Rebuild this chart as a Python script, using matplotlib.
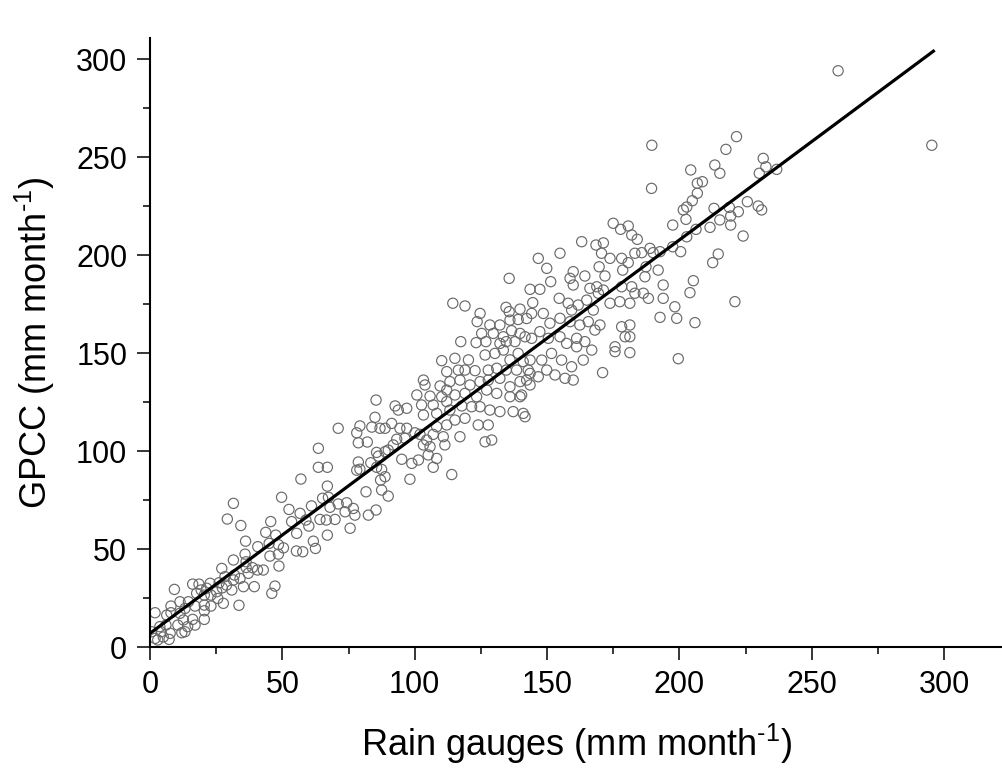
# Dispersión GPCC vs pluviómetros con recta de ajuste

import matplotlib
matplotlib.use('Agg')
import matplotlib.pyplot as plt
from matplotlib.ticker import MultipleLocator

plt.rcParams['font.family'] = ['Liberation Sans', 'DejaVu Sans']
plt.rcParams['mathtext.fontset'] = 'custom'
plt.rcParams['mathtext.rm'] = 'Liberation Sans'
plt.rcParams['mathtext.it'] = 'Liberation Sans'

# Datos: (pluviómetro, GPCC) en mm/mes
puntos = [
    # 0 - 62
    (31.5, 73.3), (49.7, 76.4), (29.2, 65.3), (34.3, 62), (52.5, 70.2), (56.7, 68.2), (61, 72),
    (53.5, 64), (45.6, 64), (43.7, 58.5), (47.5, 57.1), (36.1, 54), (40.7, 51.2), (45, 52.9),
    (48.5, 52.2), (55.4, 58), (55.3, 49), (57.7, 48.6), (61.7, 54), (62.5, 50.3), (50.4, 50.6),
    (45.3, 46.4), (48.5, 47.4), (48.7, 41.3), (35.9, 47.4), (31.5, 44.4), (36.3, 43.5),
    (38.7, 40.5), (42.8, 39.3), (40.6, 39.3), (37.1, 37.6), (34, 35), (35.3, 30.8), (39.4, 30.8),
    (47.2, 31.1), (46, 27.4), (33.6, 21.3), (31.5, 34.2), (28.3, 35.9), (27.1, 40.1), (28.9, 31.6),
    (25.2, 28.2), (27.3, 30.2), (22.7, 32.5), (23, 26.5), (25.6, 24.8), (27.7, 22.3), (18.5, 32.1),
    (16.1, 32.1), (19.3, 29.1), (21.4, 30), (20.5, 26.5), (17.6, 27.4), (20.5, 21.4), (23, 20.9),
    (17, 20.9), (20.5, 18.5), (14.5, 23.1), (13.2, 19.7), (11.3, 23.1), (11.3, 17.2), (7.9, 20.9),
    (9.2, 29.4), (7.9, 17.5), (12.6, 13.8), (16.1, 14.1), (20.5, 14.1), (17, 11.2), (14.2, 10.4),
    (12, 7.3), (13.2, 7.8), (10.5, 11.2), (6.3, 16.3), (6, 11.2), (7.6, 7), (4.2, 7.8), (1.9, 17.5),
    (1.9, 4.4), (2.9, 3.6), (5, 5.1), (7.2, 3.9), (0.6, 7.8), (3.7, 10.4), (26.1, 32.8),
    (30.9, 29.1), (31.9, 36.7), (36.3, 40.6), (60, 61.7),
    # 55 - 110
    (85.4, 126), (92.6, 123), (93.8, 120.9), (100.8, 128.6), (103.9, 133.7), (105.8, 128),
    (102.6, 123.5), (107, 123.5), (108.3, 119.2), (85, 117.2), (79.3, 112.8), (83.8, 112.2),
    (86.9, 111.6), (88.8, 111.6), (91.3, 114.1), (94.4, 111.6), (97, 111.6), (71.1, 111.6),
    (78.1, 109.3), (78.7, 104.2), (82.1, 104.6), (100.1, 109.3), (96.3, 106.5), (93.2, 106),
    (102, 108.5), (104.5, 105.6), (107, 108.5), (103.3, 103.1), (105.8, 102.2), (91.9, 103.1),
    (90, 100.5), (88.8, 99.7), (85.6, 99.3), (86.3, 97.4), (83.4, 94), (78.7, 94.4), (79.3, 90.7),
    (78.1, 90.2), (63.6, 101.4), (63.6, 91.7), (67, 91.7), (57, 85.7), (67, 82.1), (85.6, 91.7),
    (87.5, 90.6), (88.8, 86.9), (87.1, 85.2), (87.5, 80.1), (90, 77), (81.6, 79.2), (95.1, 95.8),
    (98.9, 93.7), (101.4, 95.4), (98.2, 85.6), (107, 91.7), (108.3, 96.2), (105.1, 98),
    (65.2, 75.9), (67.4, 76.4), (68, 71.3), (71.1, 73), (74.3, 73.6), (73.7, 69), (76.8, 70.7),
    (77.4, 67.3), (82.5, 67.3), (85.4, 69.9), (58.9, 64.8), (64.2, 65.1), (66.6, 64.8),
    (69.9, 65.1), (75.6, 60.6), (67, 57.1),
    # 95 - 145
    (114.4, 175.4), (119, 174), (124.7, 170.2), (123.6, 166), (134.5, 173.3), (135.7, 171.1),
    (139.8, 172.4), (128.4, 164.3), (132.2, 164.3), (136, 166.8), (139.1, 167.1), (142.3, 167.6),
    (125.3, 160), (129.7, 160), (133.5, 158.3), (136.6, 161.4), (139.8, 160), (117.4, 155.8),
    (123.2, 155.3), (126.9, 155.8), (132.2, 154.9), (134.6, 155.8), (137.9, 155.8), (141.7, 158.3),
    (110.2, 146.1), (115.2, 147.3), (120.3, 146.5), (126.6, 149), (130.3, 149.8), (133.5, 151.5),
    (136, 146.5), (139.1, 149.8), (141, 145.6), (112.1, 140.5), (116.5, 141.3), (119, 141.3),
    (122.8, 141), (127.8, 141.3), (131, 142.2), (134.6, 141.3), (138.5, 141.3), (142.9, 141.3),
    (103.3, 136.2), (109.6, 133.2), (113.3, 135.4), (117.1, 136.2), (120.9, 133.7), (124.7, 135.4),
    (127.8, 136.2), (132.2, 137.1), (136, 132.8), (139.8, 135.4), (142.3, 136.2), (110.2, 127.7),
    (112.1, 131.1), (115.2, 128.6), (119, 129.4), (123.4, 127.7), (127.2, 131.1), (131, 129.4),
    (136, 127.7), (139.8, 127.7), (112.1, 125.2), (113.3, 120.9), (117.8, 123), (121.5, 122.6),
    (124.7, 122.6), (128.4, 120.9), (132.2, 120.1), (137.2, 120.1), (141.7, 117.5), (97, 121.8),
    (103.3, 118.4), (108.3, 112.4), (112.1, 113.3), (115.2, 115.8), (119, 116.7), (124, 113.3),
    (127.8, 113.3), (110.8, 107.3), (117.1, 107.3), (126.6, 104.7), (129.1, 105.6),
    (111.4, 103.1), (114, 88),
    # 120 - 170
    (146.7, 198.3), (154.9, 200.9), (149.9, 193.2), (151.4, 186.4), (135.7, 188.1), (143.6, 182.5),
    (147.3, 182.5), (158.7, 188.1), (159.9, 191.5), (164.3, 189.3), (159.9, 184.7), (166.2, 183),
    (169.4, 180.5), (169.7, 194), (144.6, 175.7), (154.6, 177.9), (158, 175.4), (161.8, 174.5),
    (165, 177), (167.5, 171.9), (144.2, 170.2), (148.6, 170.2), (151.1, 165.2), (154.9, 167.7),
    (158.7, 166), (162.4, 164.3), (165.6, 166), (168.1, 161.7), (144.2, 157.5), (147.3, 160.9),
    (150.5, 157.5), (154.9, 158.3), (157.4, 154.9), (161.2, 153.2), (164.3, 155.8), (166.9, 151.5),
    (143.6, 146.4), (148, 146.4), (151.7, 149.8), (155.5, 146.4), (159.3, 143), (163.7, 146.4),
    (143.6, 139.6), (146.7, 137.9), (149.9, 141.3), (153, 138.8), (156.8, 137.1), (159.9, 136.2),
    (143.6, 133.7), (140.4, 128.6), (141, 119.2),
    # 155 - 205
    (189.5, 234), (189.6, 256), (175, 216.2), (177.8, 213.1), (180.7, 214.8), (182, 210.2),
    (184.1, 208), (197.5, 215.3), (201.5, 223), (202.5, 218.2), (163.1, 206.8), (168.5, 205.1),
    (171.3, 206.2), (170.6, 200.9), (173.8, 198.3), (178.2, 198.3), (180.7, 196.1), (183.2, 200.9),
    (185.8, 201.2), (188.9, 203.4), (190.1, 201.2), (192.7, 201.7), (197.5, 204.2), (200.5, 201.7),
    (171.9, 189.3), (178.6, 192.3), (187.4, 194), (187, 188.9), (192, 192.3), (193.9, 184.7),
    (168.8, 183.8), (171.3, 182.1), (178.2, 183.8), (182, 183.8), (183.2, 180.5), (186.4, 180.5),
    (188.3, 177.9), (193.9, 177.9), (173.8, 175.4), (177.5, 176.2), (181.3, 175.4), (198.3, 173.6),
    (199, 167.7), (192.7, 168.2), (159.3, 171.9), (170, 164.3), (178.2, 163.4), (181.3, 164.3),
    (179.5, 158.3), (181.3, 158.3), (175.7, 150.7), (181.3, 150.2), (175.7, 153.2), (161.2, 157.5),
    (199.6, 147.1), (171, 140),
    # 195 - 300
    (221.6, 260.4), (217.6, 253.9), (231.7, 249.3), (232.7, 245), (230.2, 241.7), (236.8, 243.7),
    (213.4, 245.9), (215.3, 241.7), (204.3, 243.4), (206.8, 236.6), (208.7, 237.4), (206.8, 231.5),
    (204.9, 227.7), (202.8, 224.5), (213.1, 223.8), (218.9, 224.3), (222.3, 222.1), (219.4, 219.9),
    (215.3, 217.9), (219.4, 215.3), (211.6, 214.1), (206.3, 213.1), (202.8, 209.3), (225.7, 227.2),
    (229.8, 225), (231.1, 223), (224.1, 209.7), (214.7, 200.5), (212.6, 196.1), (205.3, 186.9),
    (204, 180.8), (221, 176.2), (205.9, 165.5), (260, 294), (295.4, 256),
]
pluviometros = [p[0] for p in puntos]
gpcc = [p[1] for p in puntos]

# Recta de ajuste (extremos)
ajuste_x = [0, 296]
ajuste_y = [7, 304]

fig = plt.figure(figsize=(10.03, 7.70), dpi=100)
ax = fig.add_axes([0.1496, 0.1597, 0.8504, 0.7909])

ax.scatter(pluviometros, gpcc, s=54, facecolors='none', edgecolors='#6a6a6a',
           linewidths=0.85, zorder=2)
ax.plot(ajuste_x, ajuste_y, color='black', linewidth=2.3, zorder=3)

ax.set_xlim(0, 322.3)
ax.set_ylim(0, 310.7)

ax.spines['top'].set_visible(False)
ax.spines['right'].set_visible(False)
ax.spines['left'].set_linewidth(1.5)
ax.spines['bottom'].set_linewidth(1.5)

ax.xaxis.set_major_locator(MultipleLocator(50))
ax.xaxis.set_minor_locator(MultipleLocator(25))
ax.yaxis.set_major_locator(MultipleLocator(50))
ax.yaxis.set_minor_locator(MultipleLocator(25))
ax.tick_params(which='major', direction='out', length=9.4, width=1.1, labelsize=22, pad=7)
ax.tick_params(which='minor', direction='out', length=5, width=1.1)

ax.set_xlabel('Rain gauges (mm month$^{\u2010 1}$)', fontsize=26, labelpad=16)
ax.set_ylabel('GPCC (mm month$^{\u2010 1}$)', fontsize=26, labelpad=14)

fig.savefig('out.png', dpi=100)
